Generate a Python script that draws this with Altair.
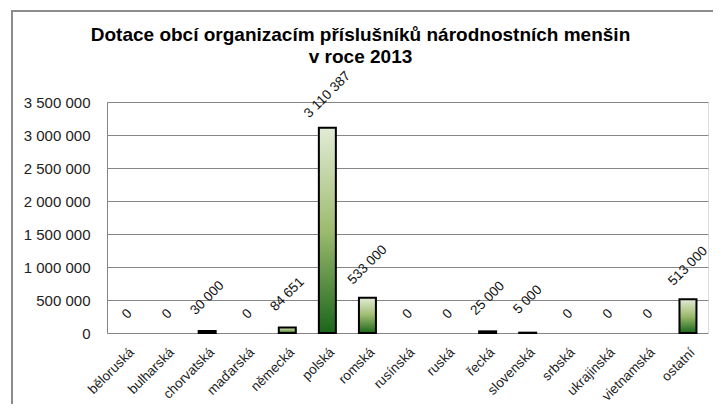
import altair as alt
import pandas as pd

categories = ["běloruská", "bulharská", "chorvatská", "maďarská", "německá", "polská",
              "romská", "rusínská", "ruská", "řecká", "slovenská", "srbská",
              "ukrajinská", "vietnamská", "ostatní"]
values = [0, 0, 30000, 0, 84651, 3110387, 533000, 0, 0, 25000, 5000, 0, 0, 0, 513000]
y_ticks = [0, 500000, 1000000, 1500000, 2000000, 2500000, 3000000, 3500000]
title_lines = ["Dotace obcí organizacím příslušníků národnostních menšin", "v roce 2013"]

df = pd.DataFrame({"cat": categories, "v": values})

FONT = "Liberation Sans Narrow, Liberation Sans, Arial, sans-serif"

x_enc = alt.X("cat:N", sort=categories, title=None,
              axis=alt.Axis(labelAngle=-45, labelAlign="right", labelBaseline="top",
                            labelPadding=12, ticks=False, domain=False, grid=False,
                            labelFontSize=13.5, labelFont=FONT, labelColor="#222",
                            labelOverlap=False),
              scale=alt.Scale(paddingInner=0, paddingOuter=0))
y_enc = alt.Y("v:Q", title=None,
              scale=alt.Scale(domain=[0, 3500000], nice=False),
              axis=alt.Axis(values=y_ticks, format=",d", ticks=False, labelPadding=17,
                            labelFontSize=15, labelFont=FONT, labelColor="#222",
                            labelOverlap=False, grid=True,
                            domain=True, domainColor="#868686", gridColor="#868686",
                            gridOpacity=1))

base = alt.Chart(df)

frame = base.mark_rect(fill=None, stroke="#8c8c8c", strokeWidth=2).encode(
    x=alt.value(-95), x2=alt.value(640), y=alt.value(-91), y2=alt.value(340)
).transform_filter("datum.cat == 'polská'")

grad = alt.Gradient(gradient="linear", x1=0, x2=0, y1=0, y2=1, stops=[
    alt.GradientStop(color="#e2ecd6", offset=0),
    alt.GradientStop(color="#9dbb6e", offset=0.5),
    alt.GradientStop(color="#1a661a", offset=1),
])

bars = base.mark_bar(color=grad, stroke="black", strokeWidth=2, width=17).encode(
    x=x_enc, y=y_enc
).transform_filter("datum.v > 0")

lab_nz = base.mark_text(angle=315, align="center", baseline="middle", fontSize=13.5,
                        font=FONT, color="#111", yOffset=-33).encode(
    x=x_enc, y=y_enc, text=alt.Text("v:Q", format=",d")
).transform_filter("datum.v > 0")

lab_z = base.mark_text(angle=315, align="center", baseline="middle", fontSize=13.5,
                       font=FONT, color="#111", yOffset=-19).encode(
    x=x_enc, y=y_enc, text=alt.Text("v:Q", format=",d")
).transform_filter("datum.v == 0")

chart = alt.layer(frame, bars, lab_nz, lab_z).properties(
    width=601, height=231,
    title=alt.TitleParams(
        text=title_lines,
        font=FONT, fontSize=19, fontWeight="bold", color="#000", anchor="middle",
        dx=-47, offset=-57, lineHeight=22),
    padding={"left": 99, "top": 94, "right": 5, "bottom": 71},
    autosize=alt.AutoSizeParams(type="none"),
).configure_view(stroke=None).configure(
    locale={"number": {"decimal": ",", "thousands": " ", "grouping": [3], "currency": ["", " Kč"]}}
)

chart.save("out.html", embed_options={"renderer": "svg", "actions": False})
